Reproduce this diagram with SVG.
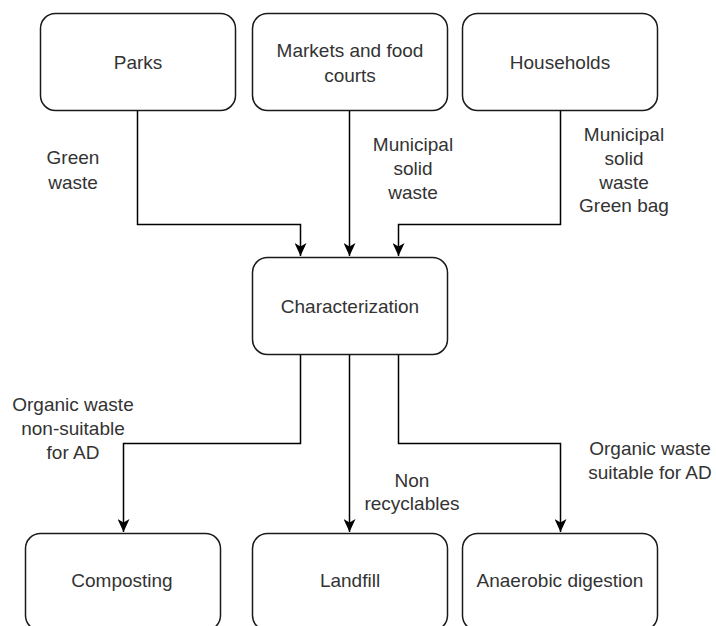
<svg xmlns="http://www.w3.org/2000/svg" width="716" height="626" viewBox="0 0 716 626">
  <style>
    .box { fill: #ffffff; stroke: #1a1a1a; stroke-width: 1.5; }
    .lbl { font-family: "Liberation Sans", Arial, Helvetica, sans-serif; font-size: 19px; fill: #333333; text-anchor: middle; }
    .edge { fill: none; stroke: #000000; stroke-width: 1.5; marker-end: url(#arrow); }
  </style>
  <defs>
    <marker id="arrow" viewBox="0 0 14 12" refX="13" refY="6" markerWidth="14" markerHeight="12" markerUnits="userSpaceOnUse" orient="auto">
      <path d="M0,0 L13,6 L0,12 L3.5,6 Z" fill="#000000"/>
    </marker>
  </defs>
  <rect width="716" height="626" fill="#ffffff"/>

  <!-- sources -->
  <g id="parks">
    <rect class="box" x="40.5" y="13.5" width="195" height="97" rx="15"/>
    <text class="lbl" x="138" y="69">Parks</text>
  </g>
  <g id="markets">
    <rect class="box" x="252.5" y="13.5" width="195" height="97" rx="15"/>
    <text class="lbl" x="350" y="57">Markets and food</text>
    <text class="lbl" x="350" y="82">courts</text>
  </g>
  <g id="households">
    <rect class="box" x="462.5" y="13.5" width="195" height="97" rx="15"/>
    <text class="lbl" x="560" y="69">Households</text>
  </g>

  <!-- sorting step -->
  <g id="characterization">
    <rect class="box" x="252.5" y="257.5" width="195" height="97" rx="15"/>
    <text class="lbl" x="350" y="313">Characterization</text>
  </g>

  <!-- destinations -->
  <g id="composting">
    <rect class="box" x="25.5" y="533.5" width="195" height="97" rx="15"/>
    <text class="lbl" x="122" y="587">Composting</text>
  </g>
  <g id="landfill">
    <rect class="box" x="252.5" y="533.5" width="195" height="97" rx="15"/>
    <text class="lbl" x="350" y="587">Landfill</text>
  </g>
  <g id="anaerobic-digestion">
    <rect class="box" x="462.5" y="533.5" width="195" height="97" rx="15"/>
    <text class="lbl" x="560" y="587">Anaerobic digestion</text>
  </g>

  <!-- flows -->
  <g id="connectors">
    <path class="edge" d="M137.5,111 V224.5 H300.5 V256"/>
    <path class="edge" d="M349.5,111 V256"/>
    <path class="edge" d="M560.5,111 V224.5 H398.5 V256"/>
    <path class="edge" d="M300.5,355 V443.5 H123.5 V532"/>
    <path class="edge" d="M349.5,355 V532"/>
    <path class="edge" d="M398.5,355 V443.5 H560.5 V532"/>

    <text class="lbl" x="73" y="164">Green</text>
    <text class="lbl" x="73" y="189">waste</text>

    <text class="lbl" x="413" y="151">Municipal</text>
    <text class="lbl" x="413" y="175">solid</text>
    <text class="lbl" x="413" y="199">waste</text>

    <text class="lbl" x="624" y="141">Municipal</text>
    <text class="lbl" x="624" y="165">solid</text>
    <text class="lbl" x="624" y="189">waste</text>
    <text class="lbl" x="624" y="212">Green bag</text>

    <text class="lbl" x="73" y="411">Organic waste</text>
    <text class="lbl" x="73" y="435">non-suitable</text>
    <text class="lbl" x="73" y="459">for AD</text>

    <text class="lbl" x="412" y="487">Non</text>
    <text class="lbl" x="412" y="510">recyclables</text>

    <text class="lbl" x="650" y="455">Organic waste</text>
    <text class="lbl" x="650" y="479">suitable for AD</text>
  </g>
</svg>
